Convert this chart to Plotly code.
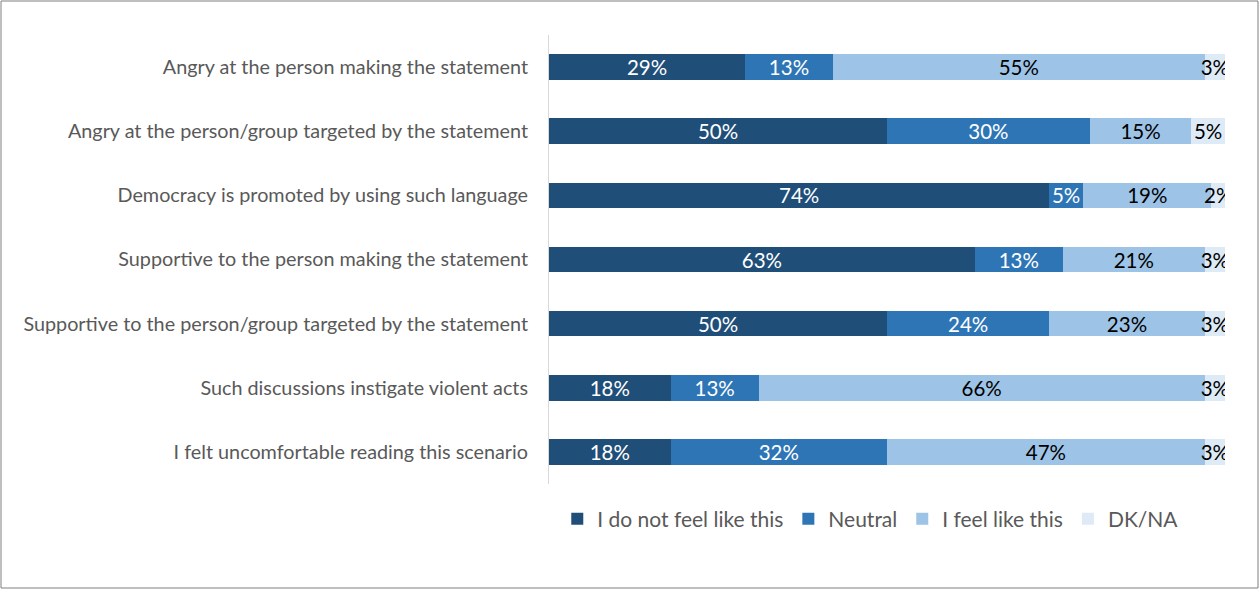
import plotly.graph_objects as go

categories = [
    "Angry at the person making the statement",
    "Angry at the person/group targeted by the statement",
    "Democracy is promoted by using such language",
    "Supportive to the person making the statement",
    "Supportive to the person/group targeted by the statement",
    "Such discussions instigate violent acts",
    "I felt uncomfortable reading this scenario",
]
series_names = ["I do not feel like this", "Neutral", "I feel like this", "DK/NA"]
not_feel = [29, 50, 74, 63, 50, 18, 18]
neutral = [13, 30, 5, 13, 24, 13, 32]
feel = [55, 15, 19, 21, 23, 66, 47]
dkna = [3, 5, 2, 3, 3, 3, 3]

values = [not_feel, neutral, feel, dkna]
colors = ["#1F4E79", "#2E75B6", "#9DC3E6", "#DEEBF7"]
text_colors = ["white", "white", "black", "black"]

FONT = "Lato, 'Open Sans', sans-serif"

fig = go.Figure()
for name, vals, col, tc in zip(series_names, values, colors, text_colors):
    fig.add_trace(go.Bar(
        y=categories, x=vals, name=name, orientation="h",
        marker=dict(color=col, line=dict(width=0)),
        text=[f"{v}%" for v in vals],
        textposition="inside", insidetextanchor="middle",
        textangle=0, constraintext="none",
        textfont=dict(color=tc, size=20.5, family=FONT),
        width=0.4,
    ))

W, H = 1260, 590
L, R, T, B = 549, 35, 35, 106
pw, ph = W - L - R, H - T - B

fig.update_layout(
    barmode="stack",
    width=W, height=H,
    margin=dict(l=L, r=R, t=T, b=B),
    paper_bgcolor="white", plot_bgcolor="white",
    font=dict(family=FONT, color="#595959"),
    showlegend=True,
    legend=dict(
        orientation="h", x=0.476, xanchor="center", y=-0.078, yanchor="middle",
        font=dict(size=21, color="#595959", family=FONT),
        traceorder="normal", itemwidth=30,
    ),
    xaxis=dict(range=[0, 100], visible=False, fixedrange=True),
    yaxis=dict(
        autorange="reversed", showline=True, linecolor="#D9D9D9", linewidth=1,
        ticks="", tickfont=dict(size=19.8, color="#595959", family=FONT),
        ticklabelstandoff=16, showgrid=False,
    ),
    shapes=[dict(
        type="rect", xref="paper", yref="paper",
        x0=(1 - L) / pw, x1=(W - 2 - L) / pw,
        y0=-(H - 2 - T - ph) / ph, y1=1 + (T - 1) / ph,
        line=dict(color="#7F7F7F", width=1), fillcolor="rgba(0,0,0,0)",
    )],
)

fig.write_html(
    "out.html",
    config={"displayModeBar": False},
    post_script="document.body.style.margin='0';document.body.style.overflow='hidden';",
)
